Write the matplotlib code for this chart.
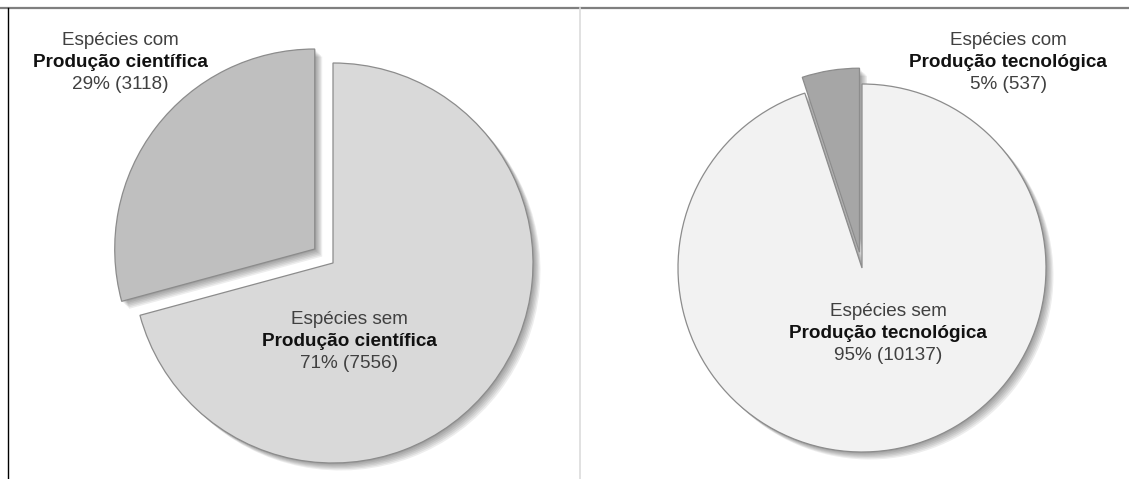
import matplotlib.pyplot as plt
from matplotlib.patches import Shadow

# species counts with / without production
cient_labels = ['Espécies com', 'Espécies sem']
cient_values = [3118, 7556]
tec_labels = ['Espécies com', 'Espécies sem']
tec_values = [537, 10137]

cient_colors = ['#bfbfbf', '#d9d9d9']
tec_colors = ['#a6a6a6', '#f2f2f2']

W, H = 1129, 479


def add_shadow(ax, wedges):
    # soft drop shadow made of a few faint offset copies
    for w in wedges:
        for k in range(1, 7):
            s = Shadow(w, k * 0.9, -k * 0.9, facecolor='k', edgecolor='none',
                       alpha=0.07)
            ax.add_patch(s)


def draw_label(ax, x, y, head, bold, value, total):
    pct = round(100 * value / total)
    ax.text(x, H - y, head, ha='center', va='center', fontsize=13.6,
            color='#404040', family='Liberation Sans')
    ax.text(x, H - y - 22, bold, ha='center', va='center', fontsize=13.6,
            color='#111111', family='Liberation Sans', fontweight='bold')
    ax.text(x, H - y - 44, f'{pct}% ({value})', ha='center', va='center',
            fontsize=13.6, color='#404040', family='Liberation Sans')


fig = plt.figure(figsize=(W / 100, H / 100), dpi=100)
ax = fig.add_axes([0, 0, 1, 1])

# explode offsets are in data units (pixels here)
wl, _ = ax.pie(cient_values, colors=cient_colors, startangle=90,
               explode=[23, 0], center=(333, H - 263), radius=200,
               frame=True,
               wedgeprops=dict(edgecolor='#8c8c8c', linewidth=0.9))
add_shadow(ax, wl)

wr, _ = ax.pie(tec_values, colors=tec_colors, startangle=90,
               explode=[16, 0], center=(862, H - 268), radius=184,
               frame=True,
               wedgeprops=dict(edgecolor='#8c8c8c', linewidth=0.9))
add_shadow(ax, wr)

ax.set_xlim(0, W)
ax.set_ylim(0, H)
ax.set_aspect('auto')
ax.axis('off')

total_c = sum(cient_values)
total_t = sum(tec_values)
draw_label(ax, 120, 40, cient_labels[0], 'Produção científica',
           cient_values[0], total_c)
draw_label(ax, 349, 320, cient_labels[1], 'Produção científica',
           cient_values[1], total_c)
draw_label(ax, 1008, 40, tec_labels[0], 'Produção tecnológica',
           tec_values[0], total_t)
draw_label(ax, 888, 312, tec_labels[1], 'Produção tecnológica',
           tec_values[1], total_t)

# frame lines around the two panels
ax.plot([0, W], [H - 7.5, H - 7.5], color='#7f7f7f', lw=1.6,
        solid_capstyle='butt')
ax.plot([7.5, 7.5], [0, H - 8], color='black', lw=1.0)
ax.plot([580, 580], [0, H - 8], color='#dcdcdc', lw=1.2)

fig.savefig('out.png', dpi=100, facecolor='white')
plt.close(fig)
